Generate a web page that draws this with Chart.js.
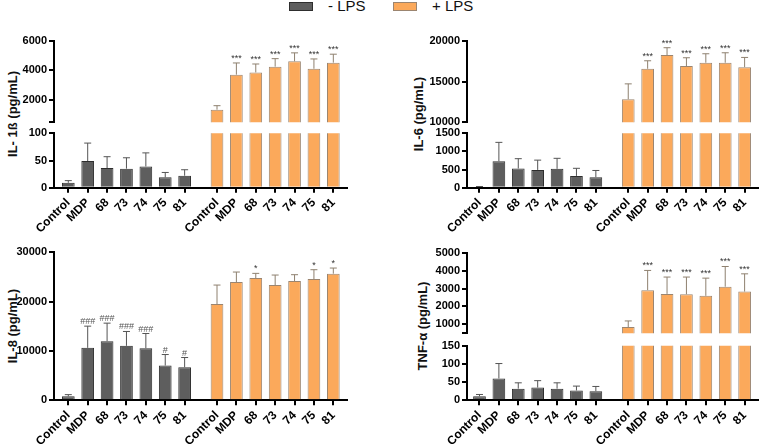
<!DOCTYPE html>
<html>
<head>
<meta charset="utf-8">
<script src="https://cdn.jsdelivr.net/npm/chart.js@4"></script>
<style>
    body { margin: 0; background: #fff; }
    #wrap { position: relative; width: 759px; height: 444px; overflow: hidden; font-family: "Liberation Sans", Arial, sans-serif; }
    #wrap canvas { position: absolute; }
    .ytitle { position: absolute; font-weight: bold; font-size: 13px; white-space: nowrap; color: #111;
              transform: translate(-50%, -50%) rotate(-90deg); }
    .legtext { position: absolute; font-size: 15px; line-height: 18px; color: #111; }
    .legbox { position: absolute; width: 22px; height: 7px; }
</style>
</head>
<body>
<div id="wrap">
    <div class="legbox" style="left:289px; top:2px; background:#5e5e5e; border:1px solid #2e2e2e;"></div>
    <div class="legtext" style="left:328px; top:-3px;">- LPS</div>
    <div class="legbox" style="left:393px; top:2px; background:#fba95b; border:1px solid #9b8570;"></div>
    <div class="legtext" style="left:432px; top:-3px;">+ LPS</div>

    <div class="ytitle" style="left:12px; top:114px;">IL- 1ß (pg/mL)</div>
    <div class="ytitle" style="left:418px; top:114px;">IL-6 (pg/mL)</div>
    <div class="ytitle" style="left:12px; top:326px;">IL-8 (pg/mL)</div>
    <div class="ytitle" style="left:422px; top:326px;">TNF-α (pg/mL)</div>
</div>
<script>
// categories (same for both groups)
var labels = ['Control', 'MDP', '68', '73', '74', '75', '81'];
var xMinus = [0, 1, 2, 3, 4, 5, 6];
var xPlus = [7.67, 8.67, 9.67, 10.67, 11.67, 12.67, 13.67];
var xTickLabels = labels.concat(labels);

// IL-1b
var il1bMinus = [9, 49, 36, 35, 39, 19, 22];
var il1bMinusSd = [4, 33, 21, 20, 25, 9, 11];
var il1bPlus = [1350, 3710, 3860, 4250, 4610, 4110, 4520];
var il1bPlusSd = [270, 790, 570, 540, 570, 660, 570];
var il1bPlusSig = ['', '***', '***', '***', '***', '***', '***'];
var il1bTopRange = [500, 6000];
var il1bTopTicks = [2000, 4000, 6000];
var il1bLowRange = [0, 100];
var il1bLowTicks = [0, 50, 100];

// IL-6
var il6Minus = [25, 730, 530, 490, 520, 325, 290];
var il6MinusSd = [8, 520, 270, 270, 290, 210, 185];
var il6Plus = [12830, 16560, 18240, 16890, 17300, 17300, 16760];
var il6PlusSd = [1880, 980, 900, 1020, 1100, 1220, 1190];
var il6PlusSig = ['', '***', '***', '***', '***', '***', '***'];
var il6TopRange = [10000, 20000];
var il6TopTicks = [10000, 15000, 20000];
var il6LowRange = [0, 1500];
var il6LowTicks = [0, 500, 1000, 1500];

// IL-8
var il8Minus = [800, 10630, 11980, 11040, 10560, 7040, 6700];
var il8MinusSd = [350, 4400, 3660, 2910, 2980, 2240, 1970];
var il8MinusSig = ['', '###', '###', '###', '###', '#', '#'];
var il8Plus = [19500, 23970, 24780, 23360, 24170, 24580, 25660];
var il8PlusSd = [3860, 2030, 950, 2030, 1290, 1890, 1150];
var il8PlusSig = ['', '', '*', '', '', '*', '*'];
var il8Range = [0, 30000];
var il8Ticks = [0, 10000, 20000, 30000];

// TNF-a
var tnfMinus = [11, 60, 32, 35, 32, 27, 25];
var tnfMinusSd = [5, 41, 16, 19, 16, 12, 13];
var tnfPlus = [850, 2910, 2700, 2680, 2590, 3100, 2830];
var tnfPlusSd = [340, 1100, 940, 960, 990, 1130, 990];
var tnfPlusSig = ['', '***', '***', '***', '***', '***', '***'];
var tnfTopRange = [500, 5000];
var tnfTopTicks = [1000, 2000, 3000, 4000, 5000];
var tnfLowRange = [0, 150];
var tnfLowTicks = [0, 50, 100, 150];

var FONT = '"Liberation Sans", Arial, sans-serif';
var wrap = document.getElementById('wrap');

// draws the upper whiskers and the significance marks
var errorBars = {
    id: 'errorBars',
    afterDatasetsDraw: function(chart) {
        var ctx = chart.ctx;
        var ys = chart.scales.y;
        chart.data.datasets.forEach(function(d, di) {
            var meta = chart.getDatasetMeta(di);
            meta.data.forEach(function(bar, i) {
                var v = d.data[i].y;
                if (v < ys.min || v > ys.max) return;
                var top = ys.getPixelForValue(v + d.sd[i]);
                ctx.save();
                ctx.strokeStyle = d.errColor;
                ctx.lineWidth = 1;
                ctx.beginPath();
                ctx.moveTo(bar.x, bar.y);
                ctx.lineTo(bar.x, top);
                ctx.moveTo(bar.x - 3.5, top);
                ctx.lineTo(bar.x + 3.5, top);
                ctx.stroke();
                if (d.sig && d.sig[i]) {
                    ctx.fillStyle = d.sig[i].charAt(0) === '#' ? '#555' : '#333';
                    ctx.font = '9px ' + FONT;
                    ctx.textAlign = 'center';
                    ctx.textBaseline = 'alphabetic';
                    ctx.fillText(d.sig[i], bar.x, top - 2);
                }
                ctx.restore();
            });
        });
    }
};

function makeDataset(xs, ys, sd, sig, fill, edge, err) {
    return {
        data: xs.map(function(x, i) { return { x: x, y: ys[i] }; }),
        sd: sd,
        sig: sig,
        errColor: err,
        backgroundColor: fill,
        borderColor: edge,
        borderWidth: 1,
        grouped: false,
        categoryPercentage: 1,
        barPercentage: 0.655,
        clip: 0
    };
}

function makeSegment(c) {
    var cv = document.createElement('canvas');
    cv.width = c.w;
    cv.height = c.h;
    cv.style.left = c.left + 'px';
    cv.style.top = c.top + 'px';
    wrap.appendChild(cv);

    var axisGrid = { drawOnChartArea: false, drawTicks: true, tickLength: 5, lineWidth: 2, color: '#000', offset: false };
    var axisBorder = { display: true, color: '#000', width: 2 };

    return new Chart(cv, {
        type: 'bar',
        data: {
            datasets: [
                makeDataset(xMinus, c.minus, c.minusSd, c.minusSig, '#5e5e5e', '#2e2e2e', '#555555'),
                makeDataset(xPlus, c.plus, c.plusSd, c.plusSig, '#fba95b', '#9b8570', '#8e806f')
            ]
        },
        options: {
            responsive: false,
            animation: false,
            devicePixelRatio: 1,
            layout: { padding: c.pad },
            plugins: { legend: { display: false }, tooltip: { enabled: false } },
            scales: {
                x: {
                    type: 'linear',
                    display: c.showX,
                    min: c.xRange[0],
                    max: c.xRange[1],
                    offset: false,
                    afterBuildTicks: function(s) {
                        s.ticks = xMinus.concat(xPlus).map(function(v) { return { value: v }; });
                    },
                    afterFit: function(s) { s.height = c.xH; },
                    grid: axisGrid,
                    border: axisBorder,
                    ticks: {
                        autoSkip: false,
                        minRotation: 45,
                        maxRotation: 45,
                        padding: 3,
                        color: '#000',
                        font: { family: FONT, size: 12, weight: 'bold' },
                        callback: function(v, i) { return xTickLabels[i]; }
                    }
                },
                y: {
                    type: 'linear',
                    min: c.range[0],
                    max: c.range[1],
                    beginAtZero: false,
                    afterBuildTicks: function(s) {
                        var vals = c.ticks.slice();
                        if (vals.indexOf(c.range[0]) < 0) vals.unshift(c.range[0]);
                        s.ticks = vals.map(function(v) { return { value: v }; });
                    },
                    afterFit: function(s) { s.width = c.yW; },
                    grid: axisGrid,
                    border: axisBorder,
                    ticks: {
                        autoSkip: false,
                        padding: 2,
                        color: '#000',
                        font: { family: FONT, size: 11, weight: 'bold' },
                        callback: function(v) { return c.ticks.indexOf(v) >= 0 ? String(v) : ''; }
                    }
                }
            }
        },
        plugins: [errorBars]
    });
}

var leftX = [-0.738, 14.36];
var rightX = [-0.644, 14.36];

// IL-1b upper and lower
makeSegment({ left: 0, top: 28, w: 360, h: 107, pad: { left: 0, right: 13.3, top: 12.7, bottom: 12.7 },
    yW: 54, xH: 0, showX: false, xRange: leftX, range: il1bTopRange, ticks: il1bTopTicks,
    minus: il1bMinus, minusSd: il1bMinusSd, minusSig: null, plus: il1bPlus, plusSd: il1bPlusSd, plusSig: il1bPlusSig });
makeSegment({ left: 0, top: 122, w: 360, h: 120, pad: { left: 0, right: 13.3, top: 11.3, bottom: 0 },
    yW: 54, xH: 54.3, showX: true, xRange: leftX, range: il1bLowRange, ticks: il1bLowTicks,
    minus: il1bMinus, minusSd: il1bMinusSd, minusSig: null, plus: il1bPlus, plusSd: il1bPlusSd, plusSig: il1bPlusSig });

// IL-6 upper and lower
makeSegment({ left: 380, top: 28, w: 379, h: 107, pad: { left: 0, right: 1, top: 12.7, bottom: 12.7 },
    yW: 87, xH: 0, showX: false, xRange: rightX, range: il6TopRange, ticks: il6TopTicks,
    minus: il6Minus, minusSd: il6MinusSd, minusSig: null, plus: il6Plus, plusSd: il6PlusSd, plusSig: il6PlusSig });
makeSegment({ left: 380, top: 122, w: 379, h: 120, pad: { left: 0, right: 1, top: 11.3, bottom: 0 },
    yW: 87, xH: 54.3, showX: true, xRange: rightX, range: il6LowRange, ticks: il6LowTicks,
    minus: il6Minus, minusSd: il6MinusSd, minusSig: null, plus: il6Plus, plusSd: il6PlusSd, plusSig: il6PlusSig });

// IL-8 (no break)
makeSegment({ left: 0, top: 238, w: 360, h: 206, pad: { left: 0, right: 13.3, top: 14.3, bottom: 0 },
    yW: 54, xH: 43.7, showX: true, xRange: leftX, range: il8Range, ticks: il8Ticks,
    minus: il8Minus, minusSd: il8MinusSd, minusSig: il8MinusSig, plus: il8Plus, plusSd: il8PlusSd, plusSig: il8PlusSig });

// TNF-a upper and lower
makeSegment({ left: 380, top: 238, w: 379, h: 108, pad: { left: 0, right: 1, top: 14.7, bottom: 12.7 },
    yW: 87, xH: 0, showX: false, xRange: rightX, range: tnfTopRange, ticks: tnfTopTicks,
    minus: tnfMinus, minusSd: tnfMinusSd, minusSig: null, plus: tnfPlus, plusSd: tnfPlusSd, plusSig: tnfPlusSig });
makeSegment({ left: 380, top: 334, w: 379, h: 110, pad: { left: 0, right: 1, top: 11.7, bottom: 0 },
    yW: 87, xH: 43.7, showX: true, xRange: rightX, range: tnfLowRange, ticks: tnfLowTicks,
    minus: tnfMinus, minusSd: tnfMinusSd, minusSig: null, plus: tnfPlus, plusSd: tnfPlusSd, plusSig: tnfPlusSig });
</script>
</body>
</html>
